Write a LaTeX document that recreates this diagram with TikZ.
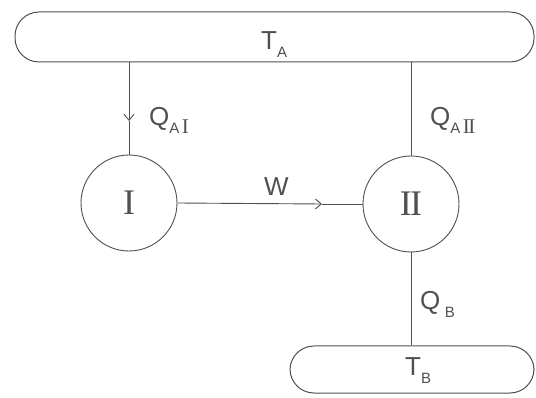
\documentclass[tikz,border=0pt]{standalone}
\usepackage{fontspec}
\setmainfont{Liberation Sans}
\newfontfamily\romanfont{Liberation Serif}
\usetikzlibrary{arrows.meta}
\definecolor{ink}{RGB}{80,80,80}
\newcommand{\subsc}[1]{\raisebox{-8pt}{\fontsize{15}{15}\selectfont #1}}
\newcommand{\romsub}[1]{{\romanfont\fontsize{21}{21}\selectfont #1}}
\newcommand{\twoI}{I\kern-1.6pt I}
\begin{document}
\begin{tikzpicture}[x=1pt,y=-1pt]
\tikzset{
  reservoir/.style={draw=ink, line width=1pt, rounded corners=24pt, inner sep=0pt},
  engine/.style={circle, draw=ink, line width=0.9pt, minimum size=96pt, inner sep=0pt},
  lbl/.style={text=ink, font=\fontsize{26}{26}\selectfont, inner sep=0pt},
  numlbl/.style={text=ink, font=\romanfont\fontsize{36}{36}\selectfont, inner sep=0pt},
  flow/.style={draw=ink, line width=0.9pt},
  tip/.style={-{Straight Barb[length=6pt,width=10pt,line width=0.9pt]}}
}
\useasboundingbox (0,0) rectangle (536,398);
\node[reservoir, minimum width=519pt, minimum height=50pt] (TA) at (274.5,37) {};
\node[reservoir, minimum width=244pt, minimum height=47pt] (TB) at (412,369.5) {};
\node[engine] (I) at (129,203) {};
\node[engine] (II) at (411,204) {};
\node[numlbl] (Ilbl) at (I) {I};
\node[numlbl] (IIlbl) at (II) {\twoI};
% connectors
\coordinate (a1) at (129,121);
\coordinate (w1) at (322,204);
\draw[flow, tip] (TA.south -| I) -- (a1);
\draw[flow] (a1) -- (I.north);
\draw[flow, tip] (I.east) -- (w1);
\draw[flow] (w1) -- (II.west);
\draw[flow] (II.north) -- (TA.south -| II);
\draw[flow] (II.south) -- (TB.north -| II);
% labels
\node[lbl, anchor=base west] (TAl) at (261,50) {T\subsc{A}};
\node[lbl, anchor=base west] (QAI) at (149,126) {Q\subsc{A\,\romsub{I}}};
\node[lbl, anchor=base west] (QAII) at (430,126) {Q\subsc{A\,\romsub{\twoI}}};
\node[lbl, anchor=base west] (Wl) at (264,196) {W};
\node[lbl, anchor=base west] (QB) at (420,310) {Q\,\subsc{B}};
\node[lbl, anchor=base west] (TBl) at (405,375) {T\subsc{B}};
\end{tikzpicture}
\end{document}
